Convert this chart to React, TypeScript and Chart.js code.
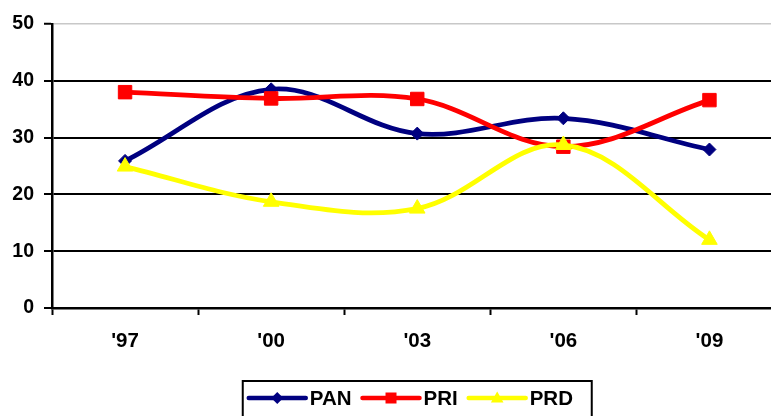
import React, { useEffect, useRef } from "react";
import { Chart, registerables } from "chart.js";

Chart.register(...registerables);

const categories = ["'97", "'00", "'03", "'06", "'09"];
const seriesNames = ["PAN", "PRI", "PRD"];
const panValues = [25.9, 38.5, 30.7, 33.4, 27.9];
const priValues = [38.0, 36.9, 36.8, 28.4, 36.6];
const prdValues = [24.9, 18.7, 17.5, 28.7, 12.0];
const yTicks = [0, 10, 20, 30, 40, 50];

const FONT = "'Liberation Sans', Arial, Helvetica, sans-serif";

function drawMarker(ctx: CanvasRenderingContext2D, style: string, x: number, y: number, s: number) {
  ctx.beginPath();
  if (style === "rectRot") {
    ctx.moveTo(x - s, y);
    ctx.lineTo(x, y - s);
    ctx.lineTo(x + s, y);
    ctx.lineTo(x, y + s);
  } else if (style === "rect") {
    ctx.rect(x - s, y - s, 2 * s, 2 * s);
  } else {
    ctx.moveTo(x, y - s * 1.1);
    ctx.lineTo(x + s * 1.05, y + s * 0.75);
    ctx.lineTo(x - s * 1.05, y + s * 0.75);
  }
  ctx.closePath();
  ctx.fill();
}

const boxLegend = {
  id: "boxLegend",
  afterDraw(chart: any) {
    const ctx: CanvasRenderingContext2D = chart.ctx;
    const { left, bottom } = chart.chartArea;
    const catW = chart.scales.x.getPixelForValue(1) - chart.scales.x.getPixelForValue(0);
    const cx = left + catW * 2.5;
    const boxW = 349;
    const boxL = cx - boxW / 2;
    const boxT = bottom + 73;
    const yMid = bottom + 90;
    ctx.save();
    ctx.font = `bold 20.5px ${FONT}`;
    ctx.textBaseline = "middle";
    ctx.textAlign = "left";
    let x = boxL + 6;
    chart.data.datasets.forEach((ds: any) => {
      ctx.strokeStyle = ds.borderColor;
      ctx.fillStyle = ds.borderColor;
      ctx.lineWidth = 4.5;
      ctx.lineCap = "round";
      ctx.beginPath();
      ctx.moveTo(x, yMid);
      ctx.lineTo(x + 57, yMid);
      ctx.stroke();
      drawMarker(ctx, ds.pointStyle, x + 28.5, yMid, ds.pointStyle === "rect" ? 5.5 : 6);
      ctx.fillStyle = "#000";
      ctx.fillText(ds.label, x + 61, yMid + 1);
      x = x + 61 + ctx.measureText(ds.label).width + 11;
    });
    ctx.strokeStyle = "#000";
    ctx.lineWidth = 2;
    ctx.strokeRect(boxL, boxT, boxW, 60);
    ctx.restore();
  },
};

export default function App() {
  const ref = useRef<HTMLCanvasElement | null>(null);
  useEffect(() => {
    if (!ref.current) return;
    const chart = new Chart(ref.current, {
      type: "line",
      data: {
        labels: categories,
        datasets: [
          {
            label: seriesNames[0],
            data: panValues,
            borderColor: "#000080",
            backgroundColor: "#000080",
            pointStyle: "rectRot",
            pointRadius: 6.5,
            borderWidth: 4.8,
            pointBorderWidth: 1,
            tension: 0.36,
            order: 2,
          },
          {
            label: seriesNames[1],
            data: priValues,
            borderColor: "#FF0000",
            backgroundColor: "#FF0000",
            pointStyle: "rect",
            pointRadius: 9.5,
            borderWidth: 4.8,
            pointBorderWidth: 1,
            tension: 0.36,
            order: 1,
          },
          {
            label: seriesNames[2],
            data: prdValues,
            borderColor: "#FFFF00",
            backgroundColor: "#FFFF00",
            pointStyle: "triangle",
            pointRadius: 9,
            borderWidth: 4.8,
            pointBorderWidth: 1,
            tension: 0.36,
            order: 0,
          },
        ],
      },
      options: {
        responsive: false,
        animation: false,
        devicePixelRatio: 1,
        layout: { padding: { left: 0, top: 24, right: 0, bottom: 62 } },
        plugins: { legend: { display: false }, tooltip: { enabled: false } },
        scales: {
          x: {
            offset: true,
            grid: {
              offset: true,
              drawOnChartArea: false,
              drawTicks: true,
              tickLength: 7,
              tickWidth: 2,
              tickColor: "#000",
            },
            border: { display: true, color: "#000", width: 2.5 },
            ticks: {
              color: "#000",
              padding: 14,
              font: { family: FONT, size: 20.5, weight: "bold" },
              maxRotation: 0,
            },
            afterFit: (s: any) => {
              s.height = 60;
            },
          },
          y: {
            min: yTicks[0],
            max: yTicks[yTicks.length - 1],
            afterBuildTicks: (s: any) => {
              s.ticks = yTicks.map((v) => ({ value: v }));
            },
            grid: {
              color: (c: any) => (c.tick && c.tick.value === 50 ? "#c8c8c8" : "#000"),
              lineWidth: (c: any) => (c.tick && c.tick.value === 50 ? 1.5 : 2),
              tickColor: "#000",
              tickLength: 8,
              tickWidth: 2,
            },
            border: { display: true, color: "#000", width: 2.5 },
            ticks: {
              color: "#000",
              padding: 10,
              font: { family: FONT, size: 19.5, weight: "bold" },
            },
            afterFit: (s: any) => {
              s.width = 52;
            },
          },
        },
      },
      plugins: [boxLegend],
    });
    return () => chart.destroy();
  }, []);

  return (
    <div
      style={{
        position: "fixed",
        left: 0,
        top: 0,
        width: 771,
        height: 416,
        overflow: "hidden",
        background: "#fff",
      }}
    >
      <canvas ref={ref} width={793} height={430} style={{ display: "block", width: 793, height: 430 }} />
    </div>
  );
}
